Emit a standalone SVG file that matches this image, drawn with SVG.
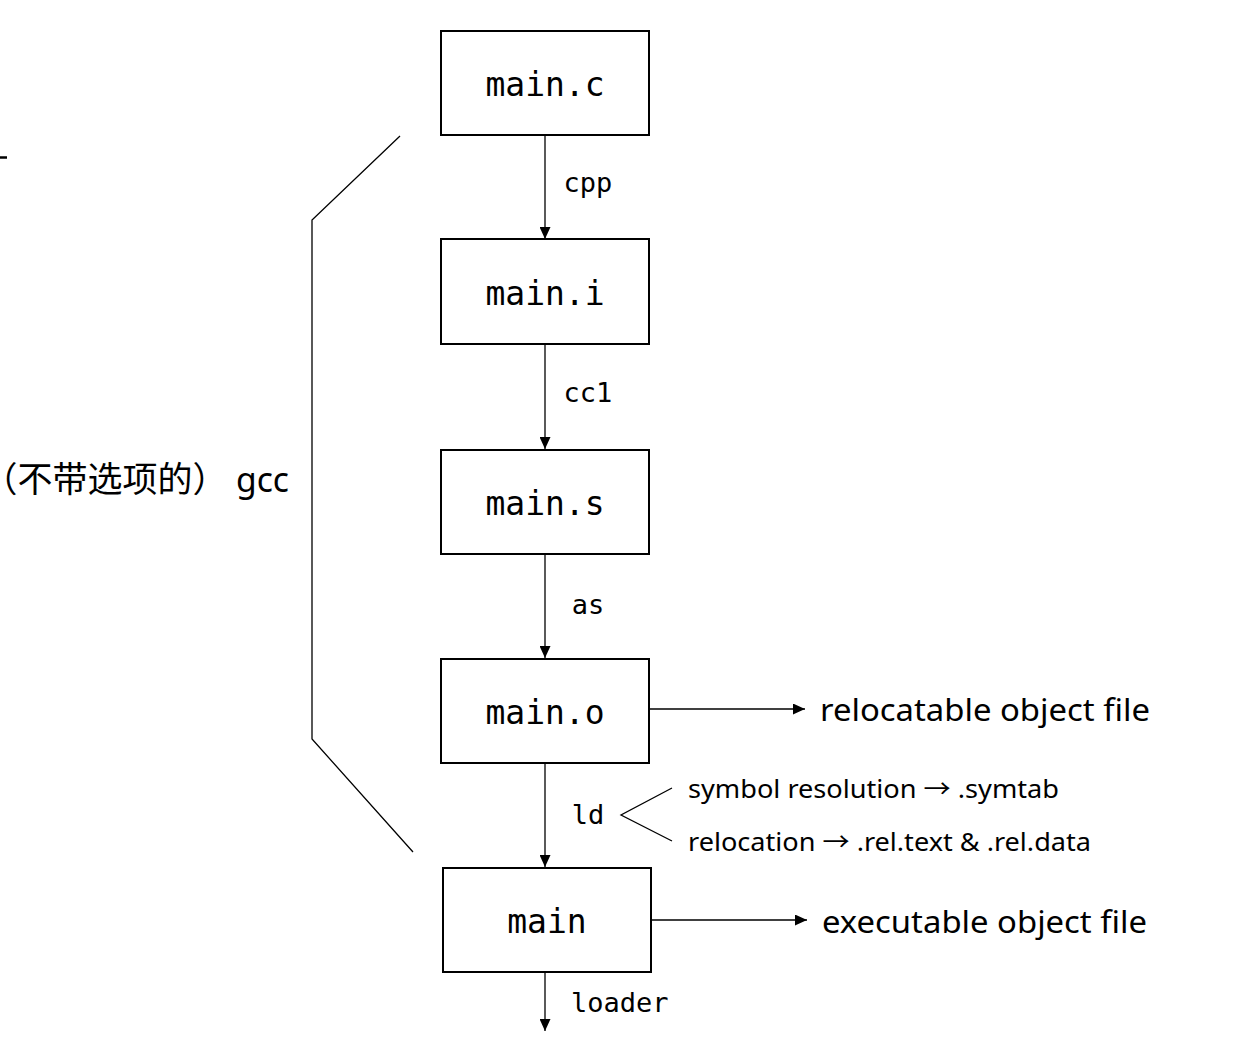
<svg xmlns="http://www.w3.org/2000/svg" width="1254" height="1044" viewBox="0 0 1254 1044">
<style>
.box{fill:#fff;stroke:#000;stroke-width:2}
.bt{font-family:"DejaVu Sans Mono",monospace;font-size:33px;text-anchor:middle;fill:#000}
.lb{font-family:"DejaVu Sans Mono",monospace;font-size:27px;fill:#000}
.ln{fill:none;stroke:#000;stroke-width:1.3}
.sa{font-family:"Noto Sans","Noto Sans CJK SC",sans-serif;fill:#000}
</style>
<defs>
<marker id="ah" markerWidth="12" markerHeight="11" refX="12" refY="5.5" orient="auto" markerUnits="userSpaceOnUse">
<path d="M0,0 L12,5.5 L0,11 z" fill="#000"/>
</marker>
</defs>
<rect width="1254" height="1044" fill="#fff"/>
<g id="connectors">
<line class="ln" x1="545" y1="135" x2="545" y2="239" marker-end="url(#ah)"/>
<line class="ln" x1="545" y1="344" x2="545" y2="449" marker-end="url(#ah)"/>
<line class="ln" x1="545" y1="554" x2="545" y2="658" marker-end="url(#ah)"/>
<line class="ln" x1="545" y1="763" x2="545" y2="867" marker-end="url(#ah)"/>
<line class="ln" x1="545" y1="972" x2="545" y2="1031" marker-end="url(#ah)"/>
<line class="ln" x1="649" y1="709" x2="805" y2="709" marker-end="url(#ah)"/>
<line class="ln" x1="651" y1="920" x2="807" y2="920" marker-end="url(#ah)"/>
<text class="lb" x="588" y="192" text-anchor="middle">cpp</text>
<text class="lb" x="588" y="402" text-anchor="middle">cc1</text>
<text class="lb" x="588" y="614" text-anchor="middle">as</text>
<text class="lb" x="588" y="824" text-anchor="middle">ld</text>
<text class="lb" x="571" y="1012">loader</text>
</g>
<g id="bracket">
<polyline class="ln" points="400,136 312,220 312,739 413,852"/>
<line x1="0" y1="157.5" x2="7" y2="157.5" stroke="#000" stroke-width="2.5"/>
<text x="0" y="492" style="font-family:'Noto Sans CJK SC',sans-serif;font-size:35px" fill="#000"><tspan style="font-feature-settings:'halt'">（</tspan>不带选项的）</text>
<text x="236" y="492" textLength="53" lengthAdjust="spacingAndGlyphs" style="font-family:'Noto Sans',sans-serif;font-size:34px" fill="#000">gcc</text>
</g>
<g id="main_c"><rect class="box" x="441" y="31" width="208" height="104"/><text class="bt" x="545" y="96">main.c</text></g>
<g id="main_i"><rect class="box" x="441" y="239" width="208" height="105"/><text class="bt" x="545" y="305">main.i</text></g>
<g id="main_s"><rect class="box" x="441" y="450" width="208" height="104"/><text class="bt" x="545" y="515">main.s</text></g>
<g id="main_o"><rect class="box" x="441" y="659" width="208" height="104"/><text class="bt" x="545" y="724">main.o</text></g>
<g id="main"><rect class="box" x="443" y="868" width="208" height="104"/><text class="bt" x="547" y="933">main</text></g>
<g id="labels">
<text class="sa" x="820" y="721" font-size="31" textLength="330" lengthAdjust="spacingAndGlyphs">relocatable object file</text>
<text class="sa" x="822" y="933" font-size="31" textLength="325" lengthAdjust="spacingAndGlyphs">executable object file</text>
<polyline class="ln" points="672,788 621,815 672,841" stroke-width="1"/>
<text class="sa" x="688" y="798" font-size="25" textLength="371" lengthAdjust="spacingAndGlyphs">symbol resolution → .symtab</text>
<text class="sa" x="688" y="851" font-size="25" textLength="403" lengthAdjust="spacingAndGlyphs">relocation → .rel.text &amp; .rel.data</text>
</g>
</svg>
